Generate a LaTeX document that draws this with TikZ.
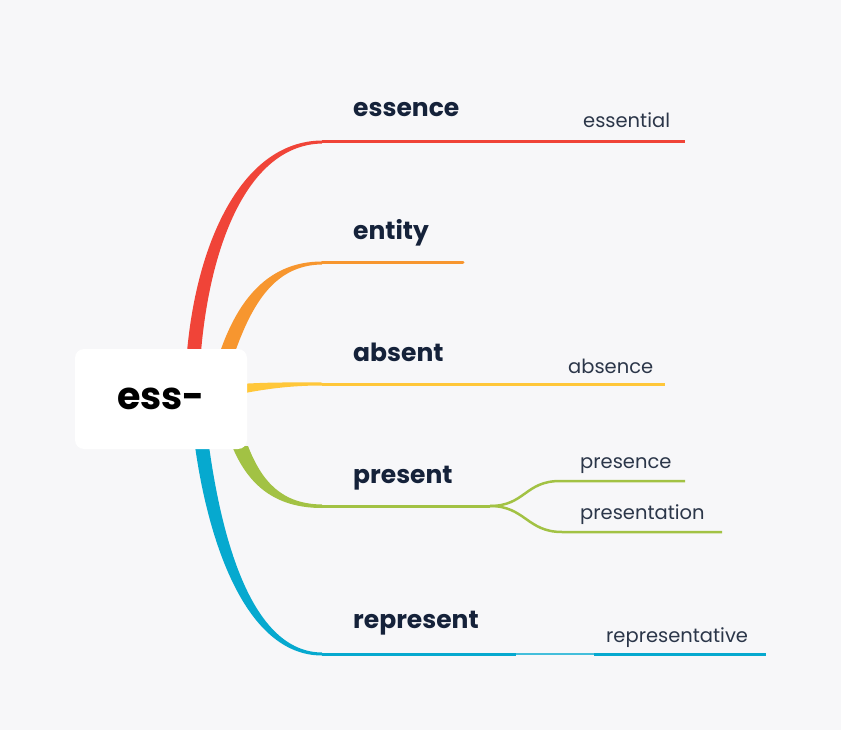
\documentclass[tikz,border=0pt]{standalone}
\usepackage{fontspec}
\setmainfont{Poppins}
\usepackage{xcolor}
\usepackage{tikz}
\usetikzlibrary{positioning}
\definecolor{paper}{HTML}{F7F7F9}
\definecolor{ink}{HTML}{15223A}
\definecolor{subink}{HTML}{2B3649}
\definecolor{bred}{HTML}{F04438}
\definecolor{borange}{HTML}{F7962F}
\definecolor{byellow}{HTML}{FFC73A}
\definecolor{bgreen}{HTML}{A2C244}
\definecolor{bblue}{HTML}{06A9CF}

\begin{document}
\begin{tikzpicture}[x=1pt, y=-1pt,
    topic/.style={anchor=base west, inner sep=0pt, text=ink,
      font=\fontsize{25}{29}\selectfont\bfseries},
    subtopic/.style={anchor=base west, inner sep=0pt, text=subink,
      font=\fontsize{19.5}{23}\selectfont},
    stem/.style={line width=3pt},
    twig/.style={line width=2.5pt}]
    \fill[paper] (0,0) rectangle (841,730);
    \useasboundingbox (0,0) rectangle (841,730);
    % tapered branches out of the root
    \fill[bred] (187,352) .. controls (197,240) and (243,141) .. (322,140.5)
      -- (322,143.5) .. controls (248,145) and (210,245) .. (201,352) -- cycle;
    \fill[borange] (220,352) .. controls (238,300) and (268,261.5) .. (322,261.5)
      -- (322,264.5) .. controls (274,265) and (252,305) .. (235,352) -- cycle;
    \fill[byellow] (240,384) .. controls (270,382) and (295,382.5) .. (322,382.5)
      -- (322,385.5) .. controls (295,385.5) and (270,388) .. (240,394) -- cycle;
    \fill[bgreen] (232,446) .. controls (248,485) and (275,508) .. (322,508)
      -- (322,504.5) .. controls (282,504) and (262,482) .. (248,446) -- cycle;
    \fill[bblue] (195,446) .. controls (208,540) and (245,655.5) .. (322,655.5)
      -- (322,652.5) .. controls (252,652) and (222,540) .. (209,446) -- cycle;
    \node[fill=white, rounded corners=9pt, minimum width=172pt, minimum height=100pt,
      font=\fontsize{38}{44}\selectfont\bfseries] (root) at (161,399) {ess-};
    % essence
    \coordinate (essenceL) at (322,142);
    \coordinate (essenceR) at (490,142);
    \coordinate (essentialL) at (570,142);
    \coordinate (essentialR) at (685,142);
    \node[topic] (essence) at (353,117) {essence};
    \node[subtopic] (essential) at (583,128) {essential};
    \draw[stem, bred] (essenceL) -- (essenceR) -- (essentialL) -- (essentialR);
    % entity
    \coordinate (entityL) at (322,263);
    \coordinate (entityR) at (463,263);
    \node[topic] (entity) at (353,240) {entity};
    \draw[stem, borange, line cap=round] (entityL) -- (entityR);
    % absent
    \coordinate (absentL) at (322,384);
    \coordinate (absentR) at (500,384);
    \coordinate (absenceL) at (555,384);
    \coordinate (absenceR) at (665,384);
    \node[topic] (absent) at (353,361) {absent};
    \node[subtopic] (absence) at (568,373) {absence};
    \draw[stem, byellow] (absentL) -- (absentR) -- (absenceL) -- (absenceR);
    % present
    \coordinate (presentL) at (322,506);
    \coordinate (presentR) at (490,506);
    \coordinate (presenceL) at (560,481);
    \coordinate (presenceR) at (685,481);
    \coordinate (presentationL) at (562,532);
    \coordinate (presentationR) at (722,532);
    \node[topic] (present) at (353,483) {present};
    \node[subtopic] (presence) at (580,468) {presence};
    \node[subtopic] (presentation) at (580,519) {presentation};
    \draw[stem, bgreen] (presentL) -- (presentR);
    \draw[twig, bgreen] (presentR) .. controls (525,506) and (525,481) .. (presenceL) -- (presenceR);
    \draw[twig, bgreen] (presentR) .. controls (525,506) and (527,532) .. (presentationL) -- (presentationR);
    % represent
    \coordinate (representL) at (322,654);
    \coordinate (representR) at (516,654);
    \coordinate (representativeL) at (594,654);
    \coordinate (representativeR) at (766,654);
    \node[topic] (represent) at (353,628) {represent};
    \node[subtopic] (representative) at (606,642) {representative};
    \draw[stem, bblue] (representL) -- (representR);
    \draw[twig, bblue!75] (representR) -- (representativeL);
    \draw[stem, bblue] (representativeL) -- (representativeR);
\end{tikzpicture}
\end{document}
